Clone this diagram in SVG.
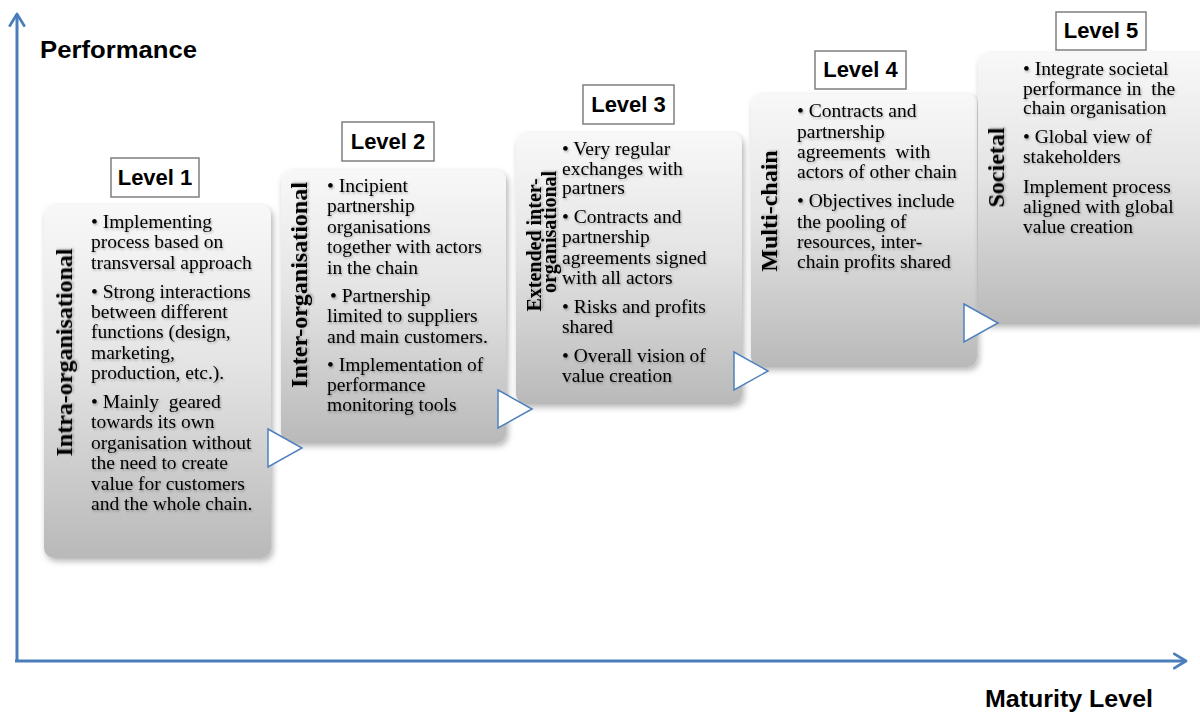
<svg xmlns="http://www.w3.org/2000/svg" width="1200" height="712" viewBox="0 0 1200 712">
<defs>
<linearGradient id="boxGrad" x1="0" y1="0" x2="0" y2="1">
<stop offset="0" stop-color="#f8f8f8"/>
<stop offset="0.45" stop-color="#e4e4e4"/>
<stop offset="1" stop-color="#b9b9b9"/>
</linearGradient>
<filter id="boxShadow" x="-10%" y="-10%" width="125%" height="125%">
<feDropShadow dx="2" dy="3" stdDeviation="3" flood-color="#000" flood-opacity="0.3"/>
</filter>
<filter id="txtShadow" x="-5%" y="-5%" width="115%" height="115%">
<feDropShadow dx="1" dy="1.5" stdDeviation="1" flood-color="#000" flood-opacity="0.3"/>
</filter>
<marker id="axisHead" viewBox="0 0 20 20" refX="17" refY="10" markerWidth="6" markerHeight="6" markerUnits="strokeWidth" orient="auto">
<path d="M4,2 L17,10 L4,18" fill="none" stroke="#4a7ebb" stroke-width="3" stroke-linecap="round" stroke-linejoin="round"/>
</marker>
</defs>
<style>
.box{fill:url(#boxGrad);filter:url(#boxShadow);}
.lvl{fill:#ffffff;stroke:#7f7f7f;stroke-width:1.5;}
.lvlt{font-family:"Liberation Sans",Arial,sans-serif;font-weight:bold;font-size:22px;fill:#000;text-anchor:middle;}
.body{font-family:"Liberation Serif","Times New Roman",serif;font-size:19.5px;fill:#000;filter:url(#txtShadow);}
.pre{white-space:pre;}
.vert{font-family:"Liberation Serif","Times New Roman",serif;font-weight:bold;font-size:24px;fill:#000;text-anchor:middle;filter:url(#txtShadow);}
.axis{stroke:#4a7ebb;stroke-width:3;fill:none;marker-end:url(#axisHead);}
.axt{font-family:"Liberation Sans",Arial,sans-serif;font-weight:bold;font-size:23px;fill:#000;}
.tri{fill:#ffffff;stroke:#4f81bd;stroke-width:1.5;stroke-linejoin:miter;}
</style>
<rect width="1200" height="712" fill="#ffffff"/>

<g id="axes">
<line class="axis" x1="17" y1="661" x2="17" y2="14"/>
<line class="axis" x1="15" y1="661" x2="1186" y2="661"/>
<text class="axt" x="40" y="58" textLength="157" lengthAdjust="spacingAndGlyphs">Performance</text>
<text class="axt" x="985" y="707" textLength="168" lengthAdjust="spacingAndGlyphs">Maturity Level</text>
</g>

<g id="node-level1">
<rect class="box" x="44" y="205" width="227" height="353" rx="10"/>
<rect class="lvl" x="111" y="158" width="88" height="39"/>
<text class="lvlt" x="155" y="185">Level 1</text>
<text class="vert" transform="translate(72,352.5) rotate(-90)">Intra-organisational</text>
<text class="body" x="91">
<tspan x="91" y="228">• Implementing</tspan>
<tspan x="91" y="248.4">process based on</tspan>
<tspan x="91" y="268.8">transversal approach</tspan>
<tspan x="91" y="297.6">• Strong interactions</tspan>
<tspan x="91" y="318">between different</tspan>
<tspan x="91" y="338.4">functions (design,</tspan>
<tspan x="91" y="358.8">marketing,</tspan>
<tspan x="91" y="379.2">production, etc.).</tspan>
<tspan class="pre" x="91" y="408">• Mainly  geared</tspan>
<tspan x="91" y="428.4">towards its own</tspan>
<tspan x="91" y="448.8">organisation without</tspan>
<tspan x="91" y="469.2">the need to create</tspan>
<tspan x="91" y="489.6">value for customers</tspan>
<tspan x="91" y="510">and the whole chain.</tspan>
</text>
</g>

<g id="node-level2">
<rect class="box" x="281" y="170" width="225" height="273" rx="10"/>
<rect class="lvl" x="342" y="122" width="92" height="39"/>
<text class="lvlt" x="388" y="149">Level 2</text>
<text class="vert" transform="translate(307,285) rotate(-90)">Inter-organisational</text>
<text class="body">
<tspan x="327" y="192">• Incipient</tspan>
<tspan x="327" y="212.4">partnership</tspan>
<tspan x="327" y="232.8">organisations</tspan>
<tspan x="327" y="253.2">together with actors</tspan>
<tspan x="327" y="273.6">in the chain</tspan>
<tspan x="330" y="302">• Partnership</tspan>
<tspan x="327" y="322.4">limited to suppliers</tspan>
<tspan x="327" y="342.8">and main customers.</tspan>
<tspan x="327" y="370.5">• Implementation of</tspan>
<tspan x="327" y="391">performance</tspan>
<tspan x="327" y="411.4">monitoring tools</tspan>
</text>
</g>

<g id="node-level3">
<rect class="box" x="516" y="133" width="226" height="271" rx="10"/>
<rect class="lvl" x="583" y="85" width="91" height="39"/>
<text class="lvlt" x="628.5" y="112">Level 3</text>
<text class="vert" style="font-size:20px" transform="translate(541,245) rotate(-90)">Extended inter-</text>
<text class="vert" style="font-size:20px" transform="translate(556,232) rotate(-90)">organisational</text>
<text class="body">
<tspan x="562" y="155">• Very regular</tspan>
<tspan x="562" y="174.5">exchanges with</tspan>
<tspan x="562" y="194">partners</tspan>
<tspan x="562" y="223">• Contracts and</tspan>
<tspan x="562" y="243">partnership</tspan>
<tspan x="562" y="263.5">agreements signed</tspan>
<tspan x="562" y="284">with all actors</tspan>
<tspan x="562" y="313">• Risks and profits</tspan>
<tspan x="562" y="333">shared</tspan>
<tspan x="562" y="362">• Overall vision of</tspan>
<tspan x="562" y="382">value creation</tspan>
</text>
</g>

<g id="node-level4">
<rect class="box" x="751" y="94" width="226" height="273" rx="10"/>
<rect class="lvl" x="815" y="51" width="91" height="38"/>
<text class="lvlt" x="860.5" y="77">Level 4</text>
<text class="vert" transform="translate(777,211) rotate(-90)">Multi-chain</text>
<text class="body">
<tspan x="797" y="117">• Contracts and</tspan>
<tspan x="797" y="137.5">partnership</tspan>
<tspan class="pre" x="797" y="158">agreements  with</tspan>
<tspan x="797" y="178">actors of other chain</tspan>
<tspan x="797" y="207">• Objectives include</tspan>
<tspan x="797" y="227.5">the pooling of</tspan>
<tspan x="797" y="248">resources, inter-</tspan>
<tspan x="797" y="268">chain profits shared</tspan>
</text>
</g>

<g id="node-level5">
<rect class="box" x="978" y="53" width="230" height="271" rx="10"/>
<rect class="lvl" x="1056" y="12" width="90" height="38"/>
<text class="lvlt" x="1101" y="38">Level 5</text>
<text class="vert" transform="translate(1004,167.5) rotate(-90)">Societal</text>
<text class="body">
<tspan x="1023" y="75">• Integrate societal</tspan>
<tspan class="pre" x="1023" y="94.5">performance in  the</tspan>
<tspan x="1023" y="114">chain organisation</tspan>
<tspan x="1023" y="143">• Global view of</tspan>
<tspan x="1023" y="163">stakeholders</tspan>
<tspan x="1023" y="193">Implement process</tspan>
<tspan x="1023" y="213">aligned with global</tspan>
<tspan x="1023" y="233">value creation</tspan>
</text>
</g>

<g id="connectors">
<polygon class="tri" points="268,429 302,448 268,467"/>
<polygon class="tri" points="498,390 532,409 498,428"/>
<polygon class="tri" points="734,352 768,371 734,390"/>
<polygon class="tri" points="964,304 998,323 964,342"/>
</g>
</svg>
